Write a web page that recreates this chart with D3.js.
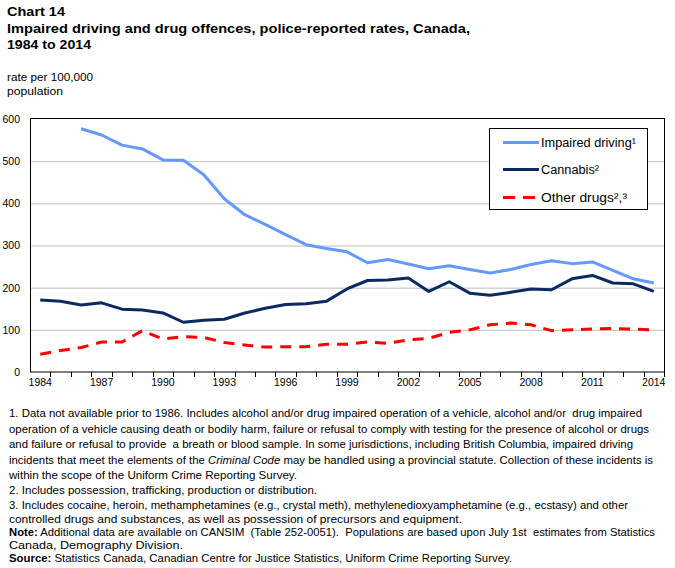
<!DOCTYPE html>
<html>
<head>
<meta charset="utf-8">
<script src="https://cdn.jsdelivr.net/npm/d3@7"></script>
<style>
  body { margin: 0; background: #fff; }
  svg { display: block; font-family: "Liberation Sans", Arial, sans-serif; }
</style>
</head>
<body>
<script>
// ---- Data ----
const years = [1984,1985,1986,1987,1988,1989,1990,1991,1992,1993,1994,1995,1996,1997,1998,1999,
               2000,2001,2002,2003,2004,2005,2006,2007,2008,2009,2010,2011,2012,2013,2014];
const tickYears = [1984,1987,1990,1993,1996,1999,2002,2005,2008,2011,2014];
const yTicks = [0,100,200,300,400,500,600];
const impairedDriving = [null,null,577,562,538,529,503,502,468,411,373,350,326,302,293,285,
                         259,267,256,245,252,243,235,243,255,264,257,261,241,221,211];
const cannabis = [171,168,159,164,149,147,140,118,123,125,140,151,160,162,168,197,
                  217,218,223,191,214,187,182,189,197,195,221,229,211,209,191];
const otherDrugs = [42,51,58,71,71,98,78,84,82,70,64,59,60,60,66,66,
                    71,68,76,80,94,100,112,116,112,98,100,102,103,102,100];
const seriesNames = ["Impaired driving\u00B9", "Cannabis\u00B2", "Other drugs\u00B2,\u00B3"];

const titleLines = ["Chart 14",
  "Impaired driving and drug offences, police-reported rates, Canada,",
  "1984 to 2014"];
const unitLines = ["rate per 100,000", "population"];

// ---- Layout ----
const W = 675, H = 568;
const svg = d3.select("body").append("svg").attr("width", W).attr("height", H);
svg.append("rect").attr("width", W).attr("height", H).attr("fill", "#fff");

const plot = {left: 30, right: 664, top: 119, bottom: 372};
const x = d3.scaleBand().domain(years).range([plot.left, plot.right]).padding(0);
const y = d3.scaleLinear().domain([0, 600]).range([plot.bottom, plot.top]);
const cx = d => x(d) + x.bandwidth() / 2;

// Title
const tW = [58, 463, 84];
titleLines.forEach((t, i) => {
  svg.append("text").attr("x", 7).attr("y", 16 + i * 16.5)
    .attr("font-size", 13).attr("font-weight", "bold").attr("fill", "#000")
    .attr("textLength", tW[i]).attr("lengthAdjust", "spacingAndGlyphs").text(t);
});
const uW = [86, 56];
unitLines.forEach((t, i) => {
  svg.append("text").attr("x", 7).attr("y", 80.5 + i * 14.5)
    .attr("font-size", 11).attr("fill", "#000")
    .attr("textLength", uW[i]).attr("lengthAdjust", "spacingAndGlyphs").text(t);
});

// Gridlines
svg.append("g").selectAll("line").data(yTicks.filter(v => v > 0 && v < 600)).join("line")
  .attr("x1", plot.left).attr("x2", plot.right)
  .attr("y1", d => y(d) + 0.5).attr("y2", d => y(d) + 0.5)
  .attr("stroke", "#BEBEBE").attr("stroke-width", 1);

// Y axis labels
const yAxis = svg.append("g").attr("transform", `translate(${plot.left},0)`)
  .call(d3.axisLeft(y).tickValues(yTicks).tickSize(0).tickPadding(10));
yAxis.select(".domain").remove();
yAxis.selectAll("text").attr("font-size", 10.5).attr("font-family", "Liberation Sans, Arial, sans-serif").attr("fill", "#000");

// X axis labels
const xAxis = svg.append("g").attr("transform", `translate(0,${plot.bottom})`)
  .call(d3.axisBottom(x).tickValues(tickYears).tickSize(0).tickPadding(7));
xAxis.select(".domain").remove();
xAxis.selectAll("text").attr("font-size", 10.5).attr("font-family", "Liberation Sans, Arial, sans-serif").attr("fill", "#000");

// X ticks at category boundaries
svg.append("g").selectAll("line").data(years.slice(1).concat(["end"])).join("line")
  .attr("x1", d => d === "end" ? plot.right + 0.5 : Math.round(x(d)) + 0.5)
  .attr("x2", d => d === "end" ? plot.right + 0.5 : Math.round(x(d)) + 0.5)
  .attr("y1", plot.bottom).attr("y2", plot.bottom + 5)
  .attr("stroke", "#000").attr("stroke-width", 1);

// Frame
svg.append("rect").attr("x", plot.left + 0.5).attr("y", plot.top - 0.5)
  .attr("width", plot.right - plot.left).attr("height", plot.bottom - plot.top + 0.5)
  .attr("fill", "none").attr("stroke", "#000").attr("stroke-width", 1);

// Lines
const series = [
  {name: seriesNames[0], values: impairedDriving, color: "#6699FF", dash: null},
  {name: seriesNames[1], values: cannabis, color: "#0C2A62", dash: null},
  {name: seriesNames[2], values: otherDrugs, color: "#FF0000", dash: "11,8"}
];
const line = d3.line()
  .defined(d => d.v != null)
  .x(d => cx(d.year)).y(d => y(d.v));
series.forEach(s => {
  const pts = years.map((yr, i) => ({year: yr, v: s.values[i]}));
  svg.append("path").datum(pts).attr("d", line)
    .attr("fill", "none").attr("stroke", s.color).attr("stroke-width", 3)
    .attr("stroke-linejoin", "round")
    .attr("stroke-dasharray", s.dash);
});

// Legend
const lg = svg.append("g");
lg.append("rect").attr("x", 489.5).attr("y", 128.5).attr("width", 158).attr("height", 81)
  .attr("fill", "#fff").attr("stroke", "#000").attr("stroke-width", 1);
const rows = [142.5, 169.5, 197.5];
const lW = [95, 58, 86];
series.forEach((s, i) => {
  lg.append("line").attr("x1", 503).attr("x2", 539).attr("y1", rows[i]).attr("y2", rows[i])
    .attr("stroke", s.color).attr("stroke-width", 3).attr("stroke-dasharray", s.dash ? "12,8" : null);
  lg.append("text").attr("x", 541).attr("y", rows[i] + 4.5).attr("font-size", 12).attr("fill", "#000")
    .attr("textLength", lW[i]).attr("lengthAdjust", "spacingAndGlyphs").text(s.name);
});

// Footnotes
const notes = [
  {y: 417, w: 633, parts: [["1. Data not available prior to 1986. Includes alcohol and/or drug impaired operation of a vehicle, alcohol and/or  drug impaired", ""]]},
  {y: 432.5, w: 640, parts: [["operation of a vehicle causing death or bodily harm, failure or refusal to comply with testing for the presence of alcohol or drugs", ""]]},
  {y: 448, w: 624, parts: [["and failure or refusal to provide  a breath or blood sample. In some jurisdictions, including British Columbia, impaired driving", ""]]},
  {y: 463.5, w: 644, parts: [["incidents that meet the elements of the ", ""], ["Criminal Code", "i"], [" may be handled using a provincial statute. Collection of these incidents is", ""]]},
  {y: 479, w: 288, parts: [["within the scope of the Uniform Crime Reporting Survey.", ""]]},
  {y: 493.5, w: 308, parts: [["2. Includes possession, trafficking, production or distribution.", ""]]},
  {y: 508.5, w: 619, parts: [["3. Includes cocaine, heroin, methamphetamines (e.g., crystal meth), methylenedioxyamphetamine (e.g., ecstasy) and other", ""]]},
  {y: 522.5, w: 453, parts: [["controlled drugs and substances, as well as possession of precursors and equipment.", ""]]},
  {y: 536, w: 646, parts: [["Note:", "b"], [" Additional data are available on CANSIM  (Table 252-0051).  Populations are based upon July 1st  estimates from Statistics", ""]]},
  {y: 548.5, w: 174, parts: [["Canada, Demography Division.", ""]]},
  {y: 562, w: 503, parts: [["Source:", "b"], [" Statistics Canada, Canadian Centre for Justice Statistics, Uniform Crime Reporting Survey.", ""]]}
];
notes.forEach(n => {
  const t = svg.append("text").attr("x", 9).attr("y", n.y).attr("font-size", 10.5).attr("fill", "#000")
    .attr("textLength", n.w).attr("lengthAdjust", "spacingAndGlyphs")
    .attr("xml:space", "preserve").style("white-space", "pre");
  n.parts.forEach(p => {
    const ts = t.append("tspan").text(p[0]);
    if (p[1] === "i") ts.attr("font-style", "italic");
    if (p[1] === "b") ts.attr("font-weight", "bold");
  });
});
</script>
</body>
</html>
